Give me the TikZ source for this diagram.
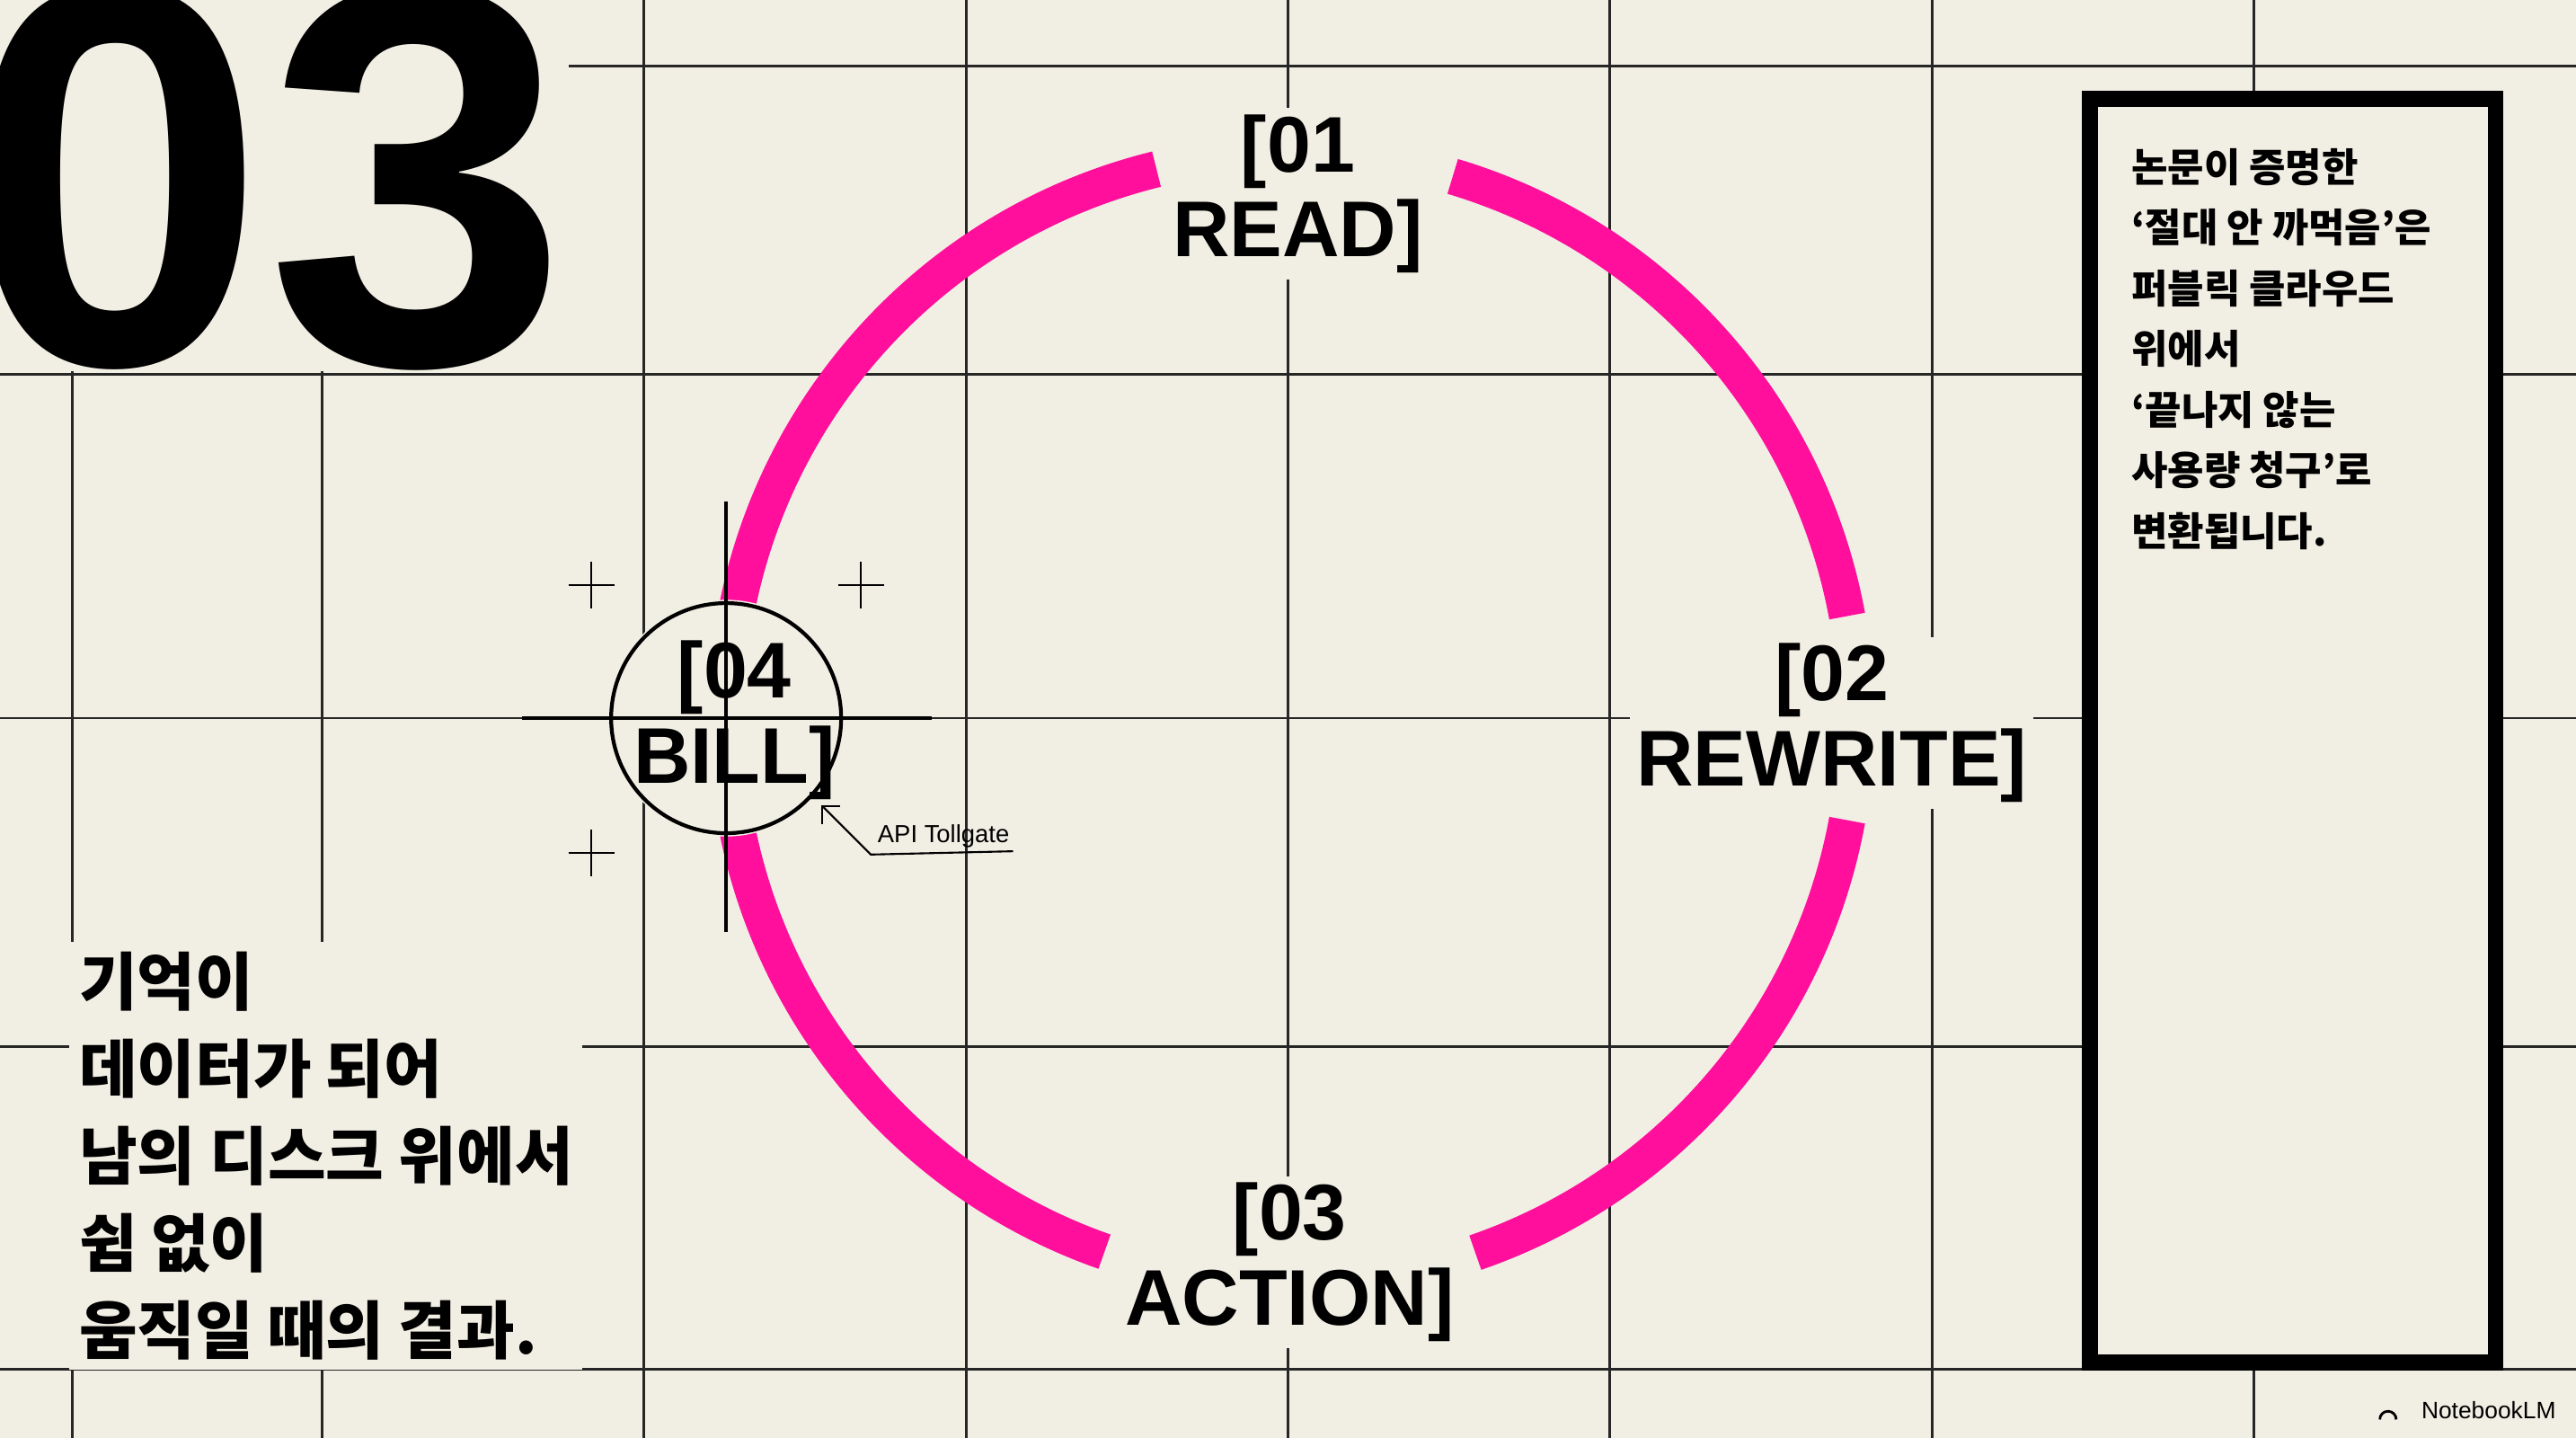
\documentclass[tikz,border=0pt]{standalone}
\usepackage{fontspec}
\setmainfont{Liberation Sans}
\newfontfamily\kor{Noto Sans CJK KR}
\usetikzlibrary{arrows.meta}
\definecolor{paper}{HTML}{F1EEE3}
\definecolor{hotpink}{HTML}{FF0F9C}
\tikzset{
  gridline/.style={line width=0.8pt,black!85},
  ring/.style={hotpink,line width=11.5pt},
  steplabel/.style={fill=paper,inner sep=2pt,align=center,font=\bfseries\fontsize{25}{27}\selectfont},
  plusmark/.style={line width=0.6pt}
}
\begin{document}
\begin{tikzpicture}[x=0.018284cm,y=-0.018284cm]
	%background
	\fill[paper] (0,0) rectangle (1568,875);
	\useasboundingbox (0,0) rectangle (1568,875);

	%grid
	\foreach \gx in {44,196,392,588,784,980,1176,1372}
	  \draw[gridline] (\gx,0) -- (\gx,875);
	\foreach \gy in {40,228,437,637,833}
	  \draw[gridline] (0,\gy) -- (1568,\gy);

	%big number
	\node[anchor=base west,inner sep=0pt,fill=paper,font=\bfseries\fontsize{172}{172}\selectfont] (bignum) at (-22,222) {03};

	%ring
	\coordinate (hub) at (786,437);
	\draw[ring] ([shift={(-10.4:344)}]hub) arc[start angle=-10.4,end angle=-73.4,radius=344];
	\draw[ring] ([shift={(-103.8:344)}]hub) arc[start angle=-103.8,end angle=-168.8,radius=344];
	\draw[ring] ([shift={(-191.4:344)}]hub) arc[start angle=-191.4,end angle=-250.7,radius=344];
	\draw[ring] ([shift={(-289:344)}]hub) arc[start angle=-289,end angle=-349.6,radius=344];

	%step labels
	\node[steplabel] (read) at (790,118) {[01\\READ]};
	\node[steplabel] (rewrite) at (1115,440) {[02\\REWRITE]};
	\node[steplabel] (action) at (785,768) {[03\\ACTION]};

	%bill target
	\fill[paper] (442,437) circle (72);
	\draw[line width=1.2pt] (318,437) -- (567,437);
	\draw[line width=1.2pt] (442,305) -- (442,567);
	\draw[line width=1.2pt] (442,437) circle (70);
	\node[align=center,inner sep=0pt,font=\bfseries\fontsize{25}{27}\selectfont] (bill) at (447,438) {[04\\BILL]};
	\foreach \px/\py in {360/356,524/356,360/519}
	  \draw[plusmark] (\px-14,\py) -- (\px+14,\py) (\px,\py-14) -- (\px,\py+14);

	%tollgate note
	\coordinate (knee) at (530,520);
	\coordinate (tip) at (500,490);
	\node[anchor=south west,inner sep=1pt,font=\fontsize{7.8}{8}\selectfont] (toll) at (532,518) {API Tollgate};
	\draw[line width=0.6pt,-{Straight Barb[length=4pt]}] (toll.south east) -- (knee) -- (tip);

	%side box
	\draw[line width=5pt,fill=paper] (1272,60) rectangle (1519,829);
	\node[anchor=north west,align=left,inner sep=0pt,font=\kor\bfseries\fontsize{12.5}{19.2}\selectfont] (claim) at (1297,90)
	  {논문이 증명한\\‘절대 안 까먹음’은\\퍼블릭 클라우드\\위에서\\‘끝나지 않는\\사용량 청구’로\\변환됩니다.};

	%left note
	\node[anchor=north west,align=left,inner sep=3pt,fill=paper,font=\kor\bfseries\fontsize{20}{27.6}\selectfont] (memory) at (42,573)
	  {기억이\\데이터가 되어\\남의 디스크 위에서\\쉼 없이\\움직일 때의 결과.};

	%brand
	\node[anchor=east,inner sep=1pt,fill=paper,font=\fontsize{7.5}{8}\selectfont] (brand) at (1558,858) {NotebookLM};
	\draw[line width=0.8pt] ([xshift=-12pt,yshift=-3pt]brand.west) arc[start angle=-180,end angle=0,radius=5];
\end{tikzpicture}
\end{document}
